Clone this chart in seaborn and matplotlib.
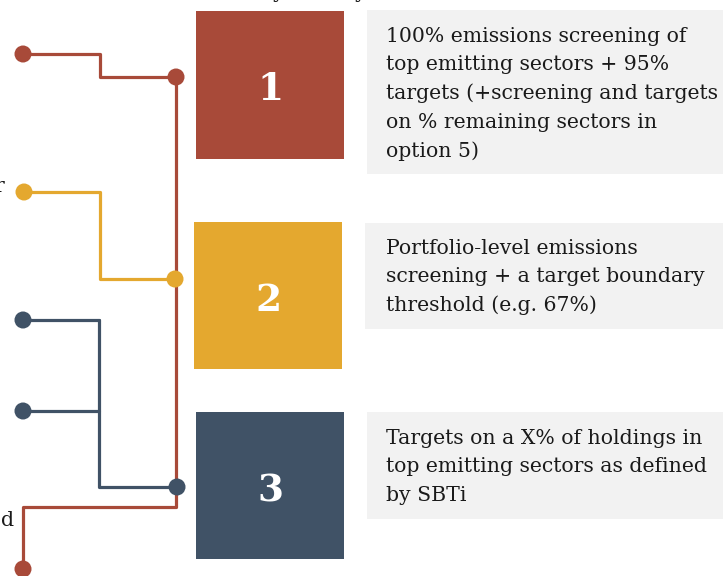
import matplotlib
matplotlib.use("Agg")
import matplotlib.pyplot as plt
import seaborn as sns
import pandas as pd
from matplotlib.patches import Rectangle

# ---- content ----
options = ["1", "2", "3"]
option_colors = ["#A84A39", "#E4A82F", "#405266"]
descriptions = [
    ["100% emissions screening of", "top emitting sectors + 95%",
     "targets (+screening and targets", "on % remaining sectors in", "option 5)"],
    ["Portfolio-level emissions", "screening + a target boundary",
     "threshold (e.g. 67%)"],
    ["Targets on a X% of holdings in", "top emitting sectors as defined",
     "by SBTi"],
]

# ---- layout (pixels, y downward) ----
W, H = 723, 576
square_boxes = [(196, 11, 148, 148), (194, 222, 148, 147), (196, 412, 148, 147)]
grey_boxes = [(367, 10, 360, 164), (365, 223, 360, 106), (367, 412, 360, 107)]
text_first_line = [36, 248, 438]
line_step = 28.7
GREY = "#F2F2F2"
FS = 14.7

# connector paths: (x list, y list, colour index)
paths = [
    ([23, 100, 100, 176], [54, 54, 77, 77], 0),
    ([24, 100, 100, 175], [192, 192, 279, 279], 1),
    ([23, 99], [320, 320], 2),
    ([23, 99], [411, 411], 2),
    ([99, 99, 177], [320, 487, 487], 2),
    ([176, 176, 23, 23], [77, 507, 507, 569], 0),
]
dots = [(23, 54, 0), (176, 77, 0), (24, 192, 1), (175, 279, 1),
        (23, 320, 2), (23, 411, 2), (177, 487, 2), (23, 569, 0)]

sns.set_theme(style="white")
plt.rcParams["font.family"] = ["DejaVu Serif"]

fig = plt.figure(figsize=(W / 100, H / 100), dpi=100)
ax = fig.add_axes([0, 0, 1, 1])
ax.set_xlim(0, W)
ax.set_ylim(H, 0)
ax.axis("off")

# grey description boxes and text
for (x, y, w, h), lines, y0 in zip(grey_boxes, descriptions, text_first_line):
    ax.add_patch(Rectangle((x, y), w, h, facecolor=GREY, edgecolor="none", zorder=1))
    for i, ln in enumerate(lines):
        ax.text(386, y0 + i * line_step, ln, fontsize=FS, color="#1a1a1a",
                va="center", ha="left", zorder=3)

# coloured squares with numbers
for (x, y, w, h), lab, col in zip(square_boxes, options, option_colors):
    ax.add_patch(Rectangle((x, y), w, h, facecolor=col, edgecolor="none", zorder=1))
    ax.text(x + w / 2, y + h / 2 + 5, lab, fontsize=27, fontweight="bold",
            color="white", ha="center", va="center", zorder=3)

# connector lines (red vertical trunk drawn first so others sit on top)
order = [5, 0, 1, 2, 3, 4]
for k in order:
    xs, ys, ci = paths[k]
    df = pd.DataFrame({"x": xs, "y": ys, "o": range(len(xs))})
    sns.lineplot(data=df, x="x", y="y", sort=False, estimator=None,
                 color=option_colors[ci], linewidth=2.3, ax=ax, zorder=2)

ddf = pd.DataFrame(dots, columns=["x", "y", "c"])
for ci in range(3):
    sub = ddf[ddf["c"] == ci]
    sns.scatterplot(data=sub, x="x", y="y", color=option_colors[ci], s=150,
                    edgecolor="none", ax=ax, zorder=4)

# clipped text fragments at the image edges (as in the reference crop)
ax.text(4, 186, "r", fontsize=FS, ha="right", va="center", color="#1a1a1a")
ax.text(14, 520, "d", fontsize=FS, ha="right", va="center", color="#1a1a1a")
ax.text(279, -8, "y", fontsize=FS, ha="center", va="center", color="#1a1a1a")
ax.text(361, -8, "y", fontsize=FS, ha="center", va="center", color="#1a1a1a")

ax.set_xlim(0, W)
ax.set_ylim(H, 0)
ax.set_xlabel("")
ax.set_ylabel("")
ax.axis("off")
fig.savefig("out.png", dpi=100)
